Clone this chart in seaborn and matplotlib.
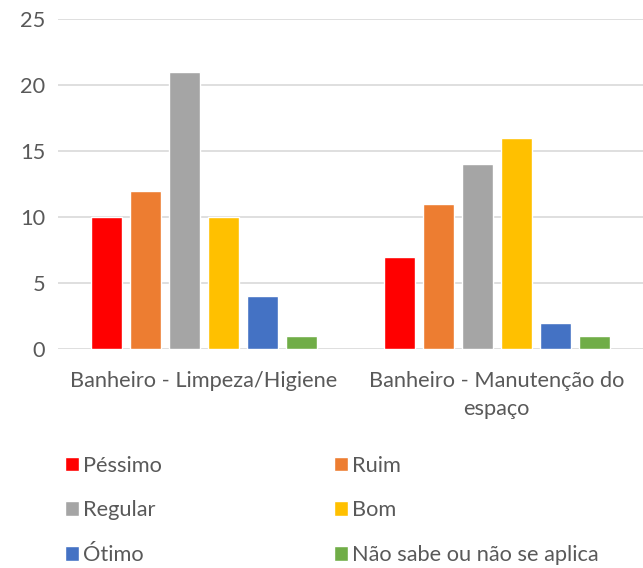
import pandas as pd
import seaborn as sns
import matplotlib.pyplot as plt

categories = ["Banheiro - Limpeza/Higiene", "Banheiro - Manutenção do\nespaço"]
ratings = ["Péssimo", "Ruim", "Regular", "Bom", "Ótimo", "Não sabe ou não se aplica"]
limpeza = [10, 12, 21, 10, 4, 1]
manutencao = [7, 11, 14, 16, 2, 1]
colors = ["#FF0000", "#ED7D31", "#A5A5A5", "#FFC000", "#4472C4", "#70AD47"]

df = pd.DataFrame({
    "categoria": [categories[0]] * len(ratings) + [categories[1]] * len(ratings),
    "avaliacao": ratings * 2,
    "valor": limpeza + manutencao,
})

sns.set_style("white")
plt.rcParams["font.family"] = ["Lato", "DejaVu Sans"]
text_color = "#595959"
fs = 15.7

fig = plt.figure(figsize=(6.43, 5.68), dpi=100)
ax = fig.add_axes([0.0898, 0.3856, 0.9102, 0.581])

sns.barplot(data=df, x="categoria", y="valor", hue="avaliacao", hue_order=ratings,
            palette=colors, saturation=1, width=0.8, gap=0.2, ax=ax)

ax.set_xlim(-0.5, 1.5)
ax.set_ylim(0, 25)
ax.set_yticks(range(0, 26, 5))
ax.set_xlabel("")
ax.set_ylabel("")
ax.yaxis.grid(True, color="#D9D9D9", linewidth=1.2)
ax.set_axisbelow(True)
for s in ax.spines.values():
    s.set_visible(False)
ax.tick_params(axis="y", length=0, pad=9, labelsize=fs, labelcolor=text_color)
ax.tick_params(axis="x", length=0, pad=16, labelsize=fs, labelcolor=text_color)
for lbl in ax.get_xticklabels():
    lbl.set_linespacing(1.5)

# legend at the bottom, 2 columns
handles, labels = ax.get_legend_handles_labels()
ax.get_legend().remove()
order = [0, 2, 4, 1, 3, 5]
fig.legend([handles[i] for i in order], [labels[i] for i in order],
           ncol=2, loc="upper left", bbox_to_anchor=(56 / 643, 1 - 447 / 568),
           frameon=False, fontsize=fs, labelcolor=text_color,
           handlelength=0.64, handleheight=0.64, handletextpad=0.2,
           labelspacing=1.13, columnspacing=7.9, borderaxespad=0)

fig.savefig("out.png", dpi=100)
